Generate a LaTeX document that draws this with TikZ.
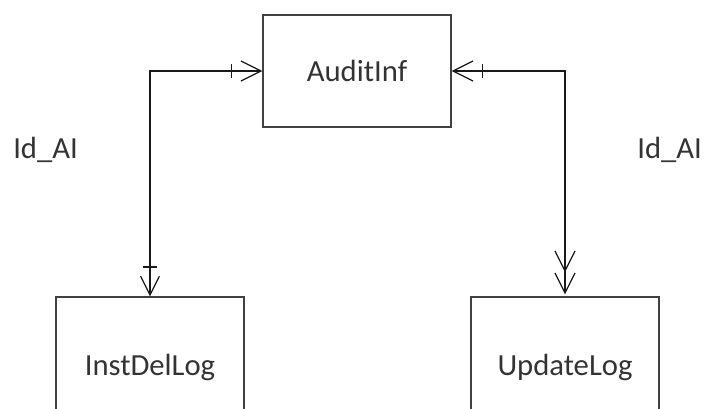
\documentclass[tikz,border=0pt]{standalone}
\usepackage{fontspec}
\usepackage{tikz}
\usetikzlibrary{arrows.meta}
\newfontfamily\labfont{Carlito}

\tikzset{
  entity/.style={draw=black!75, line width=1.1pt, text=black!80,
    font=\labfont\fontsize{23}{27}\selectfont,
    minimum width=141pt, minimum height=84pt, inner sep=0pt},
  rel/.style={draw=black!90, line width=0.9pt},
  keylab/.style={text=black!80, font=\labfont\fontsize{23}{27}\selectfont, inner sep=0pt}
}

\begin{document}
\begin{tikzpicture}[x=0.75pt,y=0.75pt,yscale=-1]
\useasboundingbox (0,0) rectangle (704,408);
\clip (0,0) rectangle (704,408);

% Entities
\node[entity] (inf) at (357,71) {AuditInf};
\node[entity, minimum height=105pt] (inst) at (150,367) {InstDelLog};
\node[entity, minimum height=105pt] (upd) at (565,367) {UpdateLog};

% Relations
\draw[rel, {Straight Barb[length=14pt,width=14pt] Bar[width=11pt,sep=6pt]}-{Bar[width=11pt,sep=6pt] Straight Barb[length=15pt,width=15pt]}]
  (inst.north) |- (inf.west);
\draw[rel, {Straight Barb[length=15pt,width=15pt,sep=1.5pt] Straight Barb[length=15pt,width=15pt]}-{Bar[width=11pt,sep=6pt] Straight Barb[length=15pt,width=15pt]}]
  (upd.north) |- (inf.east);

% Key labels
\node[keylab, anchor=base west] (idl) at (13,158) {Id\_AI};
\node[keylab, anchor=base west] (idr) at (637,158) {Id\_AI};

\end{tikzpicture}
\end{document}
